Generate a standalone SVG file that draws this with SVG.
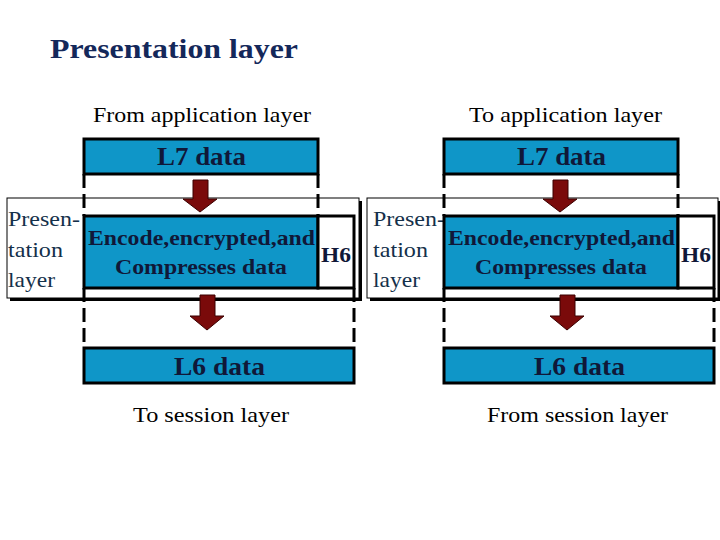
<svg xmlns="http://www.w3.org/2000/svg" width="720" height="540" viewBox="0 0 720 540">
<style>
.t{font-family:"Liberation Serif",serif;fill:#000;font-size:21px}
.lab{font-family:"Liberation Serif",serif;font-size:22px;fill:#14304a}
.bx{fill:#0f96c8;stroke:#000;stroke-width:3}
.bt{font-family:"Liberation Serif",serif;font-weight:bold;fill:#101838}
.d{stroke:#000;stroke-width:3;stroke-dasharray:14,6;fill:none}
.ly{fill:#fff;stroke:#000;stroke-width:1}
.ar{fill:#7a0a0a;stroke:#3a0000;stroke-width:1}
</style>
<rect width="720" height="540" fill="#fff"/>
<text x="50" y="58" textLength="248" lengthAdjust="spacingAndGlyphs" style="font-family:'Liberation Serif',serif;font-weight:bold;font-size:28px;fill:#14285a">Presentation layer</text>
<g id="left">
<text x="93" y="122" class="t" textLength="218" lengthAdjust="spacingAndGlyphs">From application layer</text>
<text x="133" y="422" class="t" textLength="156" lengthAdjust="spacingAndGlyphs">To session layer</text>
<rect x="10" y="201" width="352" height="100" fill="#000"/>
<rect x="7" y="198" width="352" height="100" class="ly"/>
<text x="8" y="226" class="lab" textLength="72" lengthAdjust="spacingAndGlyphs">Presen-</text>
<text x="8" y="257" class="lab" textLength="55" lengthAdjust="spacingAndGlyphs">tation</text>
<text x="8" y="287" class="lab" textLength="47" lengthAdjust="spacingAndGlyphs">layer</text>
<rect x="84" y="139" width="234" height="35" class="bx"/>
<text x="157" y="165" class="bt" font-size="25" textLength="89" lengthAdjust="spacingAndGlyphs">L7 data</text>
<path d="M84 174V216M318 174V216M84 288V348M354 288V348" class="d"/>
<rect x="84" y="216" width="234" height="72" class="bx"/>
<rect x="318" y="216" width="36" height="72" fill="#fff" stroke="#000" stroke-width="3"/>
<text x="88" y="245" class="bt" font-size="21" textLength="227" lengthAdjust="spacingAndGlyphs">Encode,encrypted,and</text>
<text x="115" y="274" class="bt" font-size="21" textLength="172" lengthAdjust="spacingAndGlyphs">Compresses data</text>
<text x="321" y="262" class="bt" font-size="21" textLength="30" lengthAdjust="spacingAndGlyphs">H6</text>
<rect x="84" y="348" width="270" height="35" class="bx"/>
<text x="174" y="375" class="bt" font-size="25" textLength="91" lengthAdjust="spacingAndGlyphs">L6 data</text>
<path d="M193 180H208V199H217L200 212L183 199H193Z" class="ar"/>
<path d="M200 295H215V316H224L207 330L190 316H200Z" class="ar"/>
</g>
<g id="right">
<text x="469" y="122" class="t" textLength="193" lengthAdjust="spacingAndGlyphs">To application layer</text>
<text x="487" y="422" class="t" textLength="181" lengthAdjust="spacingAndGlyphs">From session layer</text>
<rect x="370" y="201" width="352" height="100" fill="#000"/>
<rect x="367" y="198" width="351" height="100" class="ly"/>
<text x="373" y="226" class="lab" textLength="72" lengthAdjust="spacingAndGlyphs">Presen-</text>
<text x="373" y="257" class="lab" textLength="55" lengthAdjust="spacingAndGlyphs">tation</text>
<text x="373" y="287" class="lab" textLength="47" lengthAdjust="spacingAndGlyphs">layer</text>
<rect x="444" y="139" width="234" height="35" class="bx"/>
<text x="517" y="165" class="bt" font-size="25" textLength="89" lengthAdjust="spacingAndGlyphs">L7 data</text>
<path d="M444 174V216M678 174V216M444 288V348M714 288V348" class="d"/>
<rect x="444" y="216" width="234" height="72" class="bx"/>
<rect x="678" y="216" width="36" height="72" fill="#fff" stroke="#000" stroke-width="3"/>
<text x="448" y="245" class="bt" font-size="21" textLength="227" lengthAdjust="spacingAndGlyphs">Encode,encrypted,and</text>
<text x="475" y="274" class="bt" font-size="21" textLength="172" lengthAdjust="spacingAndGlyphs">Compresses data</text>
<text x="681" y="262" class="bt" font-size="21" textLength="30" lengthAdjust="spacingAndGlyphs">H6</text>
<rect x="444" y="348" width="270" height="35" class="bx"/>
<text x="534" y="375" class="bt" font-size="25" textLength="91" lengthAdjust="spacingAndGlyphs">L6 data</text>
<path d="M553 180H568V199H577L560 212L543 199H553Z" class="ar"/>
<path d="M560 295H575V316H584L567 330L550 316H560Z" class="ar"/>
</g>
</svg>
